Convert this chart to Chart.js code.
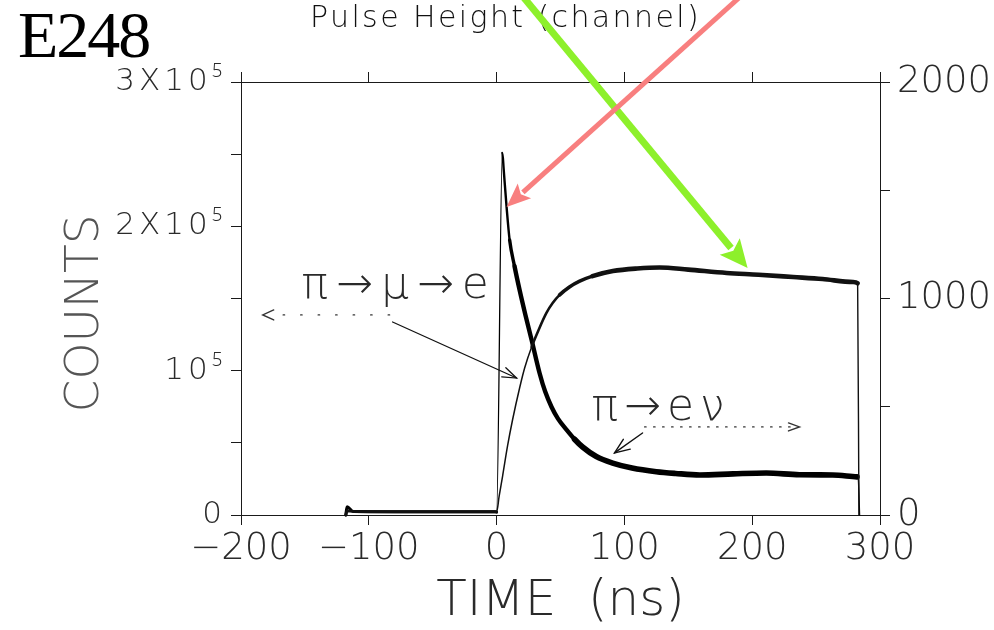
<!DOCTYPE html>
<html>
<head>
<meta charset="utf-8">
<style>
html,body{margin:0;padding:0;background:#fff;}
#wrap{width:994px;height:630px;position:relative;}
canvas{display:block;}
</style>
<script src="https://cdn.jsdelivr.net/npm/chart.js@4.4.1/dist/chart.umd.min.js"></script>
</head>
<body>
<div id="wrap"><canvas id="c" width="994" height="630" style="width:994px;height:630px"></canvas></div>
<script>
// ---------------- data ----------------
// pi -> mu -> e  (thin rising curve, left axis, counts)
const muTime   = [-118, -117, -112, -80, -40, -1, 0, 2, 4.7, 8.6, 12.5, 18, 22, 27.4, 33, 39, 44, 49.3, 57, 65, 75, 91, 110, 127.5, 150, 180, 205, 232, 255, 279, 282.5, 283.5];
const muCounts = [0, 3000, 2400, 2300, 2300, 2300, 2000, 13000, 27000, 48000, 66000, 88000, 102000, 116400, 128500, 140000, 147000, 152500, 158000, 162000, 165500, 169000, 170800, 171500, 170000, 167700, 166500, 164900, 163500, 161400, 160500, 0];

// pi -> e nu  (thick peaked curve, right axis, pulse height channel)
const enuTime   = [-118, -117, -112, -80, -40, -1, 0, 4.5, 5.5, 7.8, 10.2, 14, 18, 22.5, 27.4, 33.6, 38, 43, 48, 54.8, 61, 67.3, 78, 90.8, 106, 125, 140, 159, 185, 211, 237, 263, 282, 283, 284];
const enuHeight = [0, 38, 16, 15, 15, 15, 14, 1672, 1600, 1423, 1270, 1150, 1039, 925, 808, 656, 570, 499, 445, 393, 350, 314, 270, 240, 217, 200, 192, 185, 190, 194, 186, 185, 176, 170, 0];

// tick labels
const xTickValues     = [-200, -100, 0, 100, 200, 300];
const xTickLabels     = ['\u2212200', '\u2212100', '0', '100', '200', '300'];
const leftTickValues  = [0, 100000, 200000, 300000];
const leftTickLabels  = ['0', '10\u2075', '2X10\u2075', '3X10\u2075'];
const rightTickValues = [0, 1000, 2000];
const rightTickLabels = ['0', '1000', '2000'];

// annotations, in data units (x: ns, y: left-axis counts)
const muText   = {text: '\u03C0\u2192\u03BC\u2192e', at: [-152.6, 150300]};
const enuText  = {text: '\u03C0\u2192e\u03BD', at: [74.3, 65800]};
const muDotted = {from: [-83.7, 138600], to: [-183, 138600]};
const enuDotted= {from: [115.8, 61000], to: [237, 61000]};
const muPointer  = {from: [-81.4, 133700], to: [15.6, 94900]};
const enuPointer = {from: [114.2, 56800], to: [92.3, 43000]};
const pinkArrow  = {from: [196.4, 363700], to: [7.8, 213400]};
const greenArrow = {from: [16.4, 363700], to: [196.4, 171100]};

// ---------------- styling ----------------
const FAMILY = '"DejaVu Sans", "Noto Sans", sans-serif';
const INK = '#1a1a1a';
const LABEL = '#2a2a2a';

function pts(xs, ys){ return xs.map((x, i) => ({x: x, y: ys[i]})); }

function spacedLabels(scale, px){
  if (scale._spacedWrap) return;
  scale._spacedWrap = true;
  const orig = scale.drawLabels;
  scale.drawLabels = function(a){ const c = this.ctx; c.save(); c.letterSpacing = px; orig.call(this, a); c.restore(); };
}

function muWidth(c){
  const x0 = c.p0.parsed.x, x1 = c.p1.parsed.x;
  if (x1 <= 0) return 3;
  if (x0 >= 282) return 1.4;
  if (x0 < 25) return 1.5;
  if (x0 < 45) return 2.6;
  if (x0 < 75) return 3.6;
  return 4.6;
}
function enuWidth(c){
  const x0 = c.p0.parsed.x, x1 = c.p1.parsed.x;
  if (x1 <= 0) return 3;
  if (x0 >= 0 && x1 <= 4.6) return 1.3;
  if (x0 >= 282) return 1.4;
  if (x0 < 8) return 2.4;
  if (x0 < 14) return 3.4;
  if (x0 < 60) return 4.4;
  return 5.6;
}

const annotate = {
  id: 'annotate',
  afterDraw(chart){
    const ctx = chart.ctx;
    const sx = chart.scales.x, sy = chart.scales.y;
    const P = p => [sx.getPixelForValue(p[0]), sy.getPixelForValue(p[1])];

    ctx.save();
    // headline texts
    ctx.fillStyle = '#000';
    ctx.textBaseline = 'alphabetic';
    ctx.textAlign = 'left';
    ctx.font = '66px "Liberation Serif", "Times New Roman", serif';
    ctx.letterSpacing = '-2px';
    ctx.fillText('E248', 18, 57);
    ctx.font = '200 30px ' + FAMILY;
    ctx.letterSpacing = '2.4px';
    ctx.fillStyle = '#111';
    ctx.fillText('Pulse Height (channel)', 310, 27);

    // formula labels
    ctx.fillStyle = LABEL;
    ctx.font = '200 44px ' + FAMILY;
    ctx.letterSpacing = '8px';
    let p = P(muText.at);  ctx.fillText(muText.text, p[0], p[1]);
    ctx.letterSpacing = '6px';
    p = P(enuText.at);     ctx.fillText(enuText.text, p[0], p[1]);
    ctx.letterSpacing = '0px';

    function openHead(tip, from, len, half, lw){
      const dx = tip[0] - from[0], dy = tip[1] - from[1];
      const L = Math.hypot(dx, dy), ux = dx / L, uy = dy / L;
      ctx.setLineDash([]);
      ctx.lineWidth = lw;
      ctx.beginPath();
      ctx.moveTo(tip[0] - ux * len - uy * half, tip[1] - uy * len + ux * half);
      ctx.lineTo(tip[0], tip[1]);
      ctx.lineTo(tip[0] - ux * len + uy * half, tip[1] - uy * len - ux * half);
      ctx.stroke();
    }
    function line(a, b, lw, dash){
      ctx.lineWidth = lw;
      ctx.setLineDash(dash || []);
      ctx.beginPath(); ctx.moveTo(a[0], a[1]); ctx.lineTo(b[0], b[1]); ctx.stroke();
    }
    ctx.strokeStyle = '#333';
    ctx.lineCap = 'round';
    // dotted direction arrows
    let a = P(muDotted.from), b = P(muDotted.to);
    line(a, [b[0] + 8, b[1]], 1.3, [1.5, 16]);
    openHead(b, a, 11, 5, 1.4);
    a = P(enuDotted.from); b = P(enuDotted.to);
    line(a, [b[0] - 6, b[1]], 1.3, [1.5, 7.5]);
    openHead(b, a, 11, 4, 1.4);
    // solid pointers
    ctx.strokeStyle = '#111';
    a = P(muPointer.from); b = P(muPointer.to);
    line(a, b, 1.3);
    openHead(b, a, 14, 5, 1.3);
    a = P(enuPointer.from); b = P(enuPointer.to);
    line(a, b, 1.4);
    openHead(b, a, 15, 6, 1.4);

    // coloured highlight arrows
    function bigArrow(arr, color, lw, len, half){
      const f = P(arr.from), t = P(arr.to);
      const dx = t[0] - f[0], dy = t[1] - f[1];
      const L = Math.hypot(dx, dy), ux = dx / L, uy = dy / L;
      ctx.strokeStyle = color; ctx.fillStyle = color;
      ctx.lineCap = 'butt';
      line(f, [t[0] - ux * (len - 2), t[1] - uy * (len - 2)], lw);
      ctx.beginPath();
      ctx.moveTo(t[0], t[1]);
      ctx.lineTo(t[0] - ux * len - uy * half, t[1] - uy * len + ux * half);
      ctx.lineTo(t[0] - ux * len * 0.8, t[1] - uy * len * 0.8);
      ctx.lineTo(t[0] - ux * len + uy * half, t[1] - uy * len - ux * half);
      ctx.closePath();
      ctx.fill();
    }
    bigArrow(greenArrow, '#8DF02B', 7, 28, 13);
    bigArrow(pinkArrow, '#F87F7F', 5, 24, 10);
    ctx.restore();
  }
};

const chart = new Chart(document.getElementById('c').getContext('2d'), {
  type: 'line',
  data: {
    datasets: [
      {
        label: '\u03C0\u2192\u03BC\u2192e',
        data: pts(muTime, muCounts),
        yAxisID: 'y',
        borderColor: '#111',
        borderWidth: 1.5,
        pointRadius: 0,
        cubicInterpolationMode: 'monotone',
        borderJoinStyle: 'round',
        borderCapStyle: 'round',
        segment: { borderWidth: muWidth },
        clip: false
      },
      {
        label: '\u03C0\u2192e\u03BD',
        data: pts(enuTime, enuHeight),
        yAxisID: 'y2',
        borderColor: '#000',
        borderWidth: 4,
        pointRadius: 0,
        cubicInterpolationMode: 'monotone',
        borderJoinStyle: 'round',
        borderCapStyle: 'round',
        segment: { borderWidth: enuWidth },
        clip: false
      }
    ]
  },
  options: {
    responsive: false,
    animation: false,
    events: [],
    layout: { padding: { top: 72, left: 0, right: 0, bottom: 0 } },
    plugins: { legend: { display: false }, tooltip: { enabled: false } },
    scales: {
      x: {
        type: 'linear', position: 'bottom', min: -200, max: 300,
        afterBuildTicks: s => { s.ticks = xTickValues.map(v => ({value: v})); },
        ticks: {
          color: LABEL, padding: 2, maxRotation: 0, autoSkip: false,
          font: { family: FAMILY, size: 37, weight: 200, lineHeight: 1.2 },
          callback: v => { const i = xTickValues.indexOf(v); return i >= 0 ? xTickLabels[i] : ''; }
        },
        grid: { drawOnChartArea: false, tickLength: 10, color: INK, lineWidth: 1 },
        border: { color: INK, width: 1 },
        title: { display: true, text: 'TIME  (ns)', color: LABEL, padding: { top: 0, bottom: 0 },
                 font: { family: FAMILY, size: 50, weight: 200, lineHeight: 1.1 } },
        afterFit: s => { s.height = 115; }
      },
      xTop: {
        type: 'linear', position: 'top', min: -200, max: 300,
        afterBuildTicks: s => { s.ticks = xTickValues.map(v => ({value: v})); },
        ticks: { display: false },
        grid: { drawOnChartArea: false, tickLength: 10, color: INK, lineWidth: 1 },
        border: { color: INK, width: 1 },
        afterFit: s => { s.height = 10; }
      },
      y: {
        type: 'linear', position: 'left', min: 0, max: 300000,
        ticks: {
          stepSize: 50000, color: LABEL, padding: 5,
          font: { family: FAMILY, size: 31, weight: 200, lineHeight: 1.2 },
          callback: v => { const i = leftTickValues.indexOf(v); return i >= 0 ? leftTickLabels[i] : ''; }
        },
        grid: { drawOnChartArea: false, tickLength: 10, color: INK, lineWidth: 1 },
        border: { color: INK, width: 1 },
        title: { display: true, text: 'COUNTS  ', color: '#555', padding: { top: 58, bottom: 0 },
                 font: { family: FAMILY, size: 47, weight: 200, lineHeight: 1.2 } },
        afterFit: s => { s.width = 241; spacedLabels(s, '4px'); }
      },
      y2: {
        type: 'linear', position: 'right', min: 0, max: 2000,
        ticks: {
          stepSize: 500, color: LABEL, padding: 7,
          font: { family: FAMILY, size: 37, weight: 200, lineHeight: 1.2 },
          callback: v => { const i = rightTickValues.indexOf(v); return i >= 0 ? rightTickLabels[i] : ''; }
        },
        grid: { drawOnChartArea: false, tickLength: 10, color: INK, lineWidth: 1 },
        border: { color: INK, width: 1 },
        afterFit: s => { s.width = 114; }
      }
    }
  },
  plugins: [annotate]
});
</script>
</body>
</html>
